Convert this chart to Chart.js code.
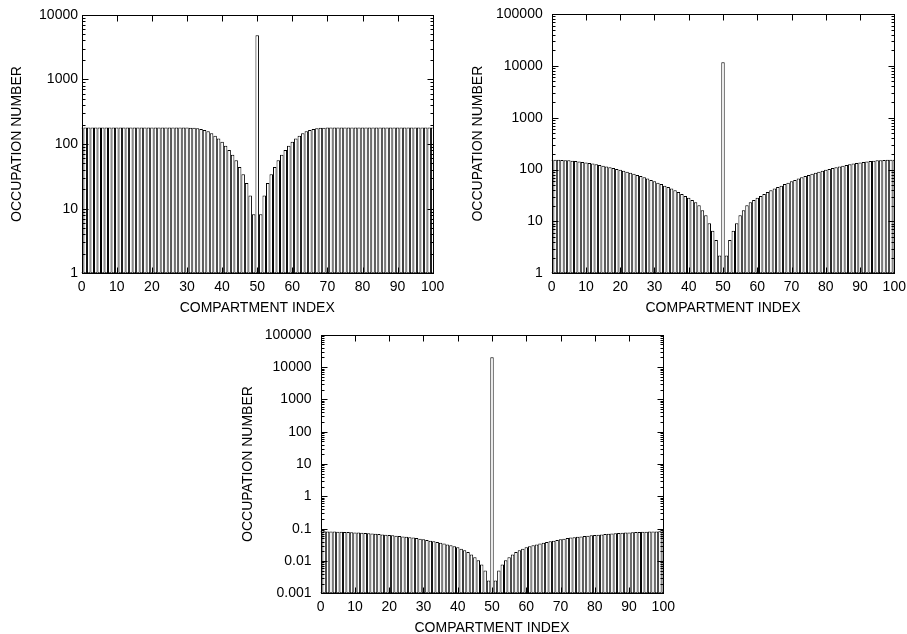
<!DOCTYPE html>
<html>
<head>
<meta charset="utf-8">
<script src="https://cdn.jsdelivr.net/npm/chart.js@4.4.0/dist/chart.umd.min.js"></script>
<style>
  html, body { margin: 0; padding: 0; background: #fff; }
  body { width: 907px; height: 634px; position: relative; overflow: hidden; }
  canvas { position: absolute; }
</style>
</head>
<body>
<canvas id="grafico1" width="450" height="320" style="left:0px;top:0px"></canvas>
<canvas id="grafico2" width="457" height="320" style="left:450px;top:0px"></canvas>
<canvas id="grafico3" width="460" height="320" style="left:220px;top:320px"></canvas>
<script>
// indices dos compartimentos 0..100
const compartimentos = Array.from({length: 101}, (_, i) => i);

// painel superior esquerdo
const ocupacao1 = [
  180, 180, 180, 180, 180, 180, 180, 180, 180, 180,
  180, 180, 180, 180, 180, 180, 180, 180, 180, 180,
  180, 180, 180, 180, 180, 180, 180, 180, 180, 180,
  180, 179, 178, 175, 171, 165, 157, 146, 134, 122,
  108, 94, 81, 68, 56, 44, 34, 25, 16, 8.2,
  4800,
  8.2, 16, 25, 34, 44, 56, 68, 81, 94, 108,
  122, 134, 146, 157, 165, 171, 175, 178, 179, 180,
  180, 180, 180, 180, 180, 180, 180, 180, 180, 180,
  180, 180, 180, 180, 180, 180, 180, 180, 180, 180,
  180, 180, 180, 180, 180, 180, 180, 180, 180, 180
];

// painel superior direito
const ocupacao2 = [
  155.5, 155, 154.5, 153.5, 152, 150.5, 148.5, 146, 143.5, 140.5,
  137.5, 134, 130.5, 127, 123, 119, 115, 111, 107, 103,
  99, 95, 91, 87, 83, 79, 75, 71, 67, 63,
  59.5, 56, 52.5, 49, 46, 43, 40, 37, 34, 31,
  28.5, 26, 23.5, 20.5, 16.5, 13.2, 9.2, 6.6, 4.4, 2.2,
  11800,
  2.2, 4.4, 6.6, 9.2, 13.2, 16.5, 20.5, 23.5, 26, 28.5,
  31, 34, 37, 40, 43, 46, 49, 52.5, 56, 59.5,
  63, 67, 71, 75, 79, 83, 87, 91, 95, 99,
  103, 107, 111, 115, 119, 123, 127, 130.5, 134, 137.5,
  140.5, 143.5, 146, 148.5, 150.5, 152, 153.5, 154.5, 155, 155.5
];

// painel inferior
const ocupacao3 = [
  0.0828, 0.0826, 0.0823, 0.0819, 0.0814, 0.0808, 0.0801, 0.0793, 0.0785, 0.0775,
  0.0765, 0.0754, 0.0742, 0.073, 0.0718, 0.0706, 0.0693, 0.068, 0.0665, 0.065,
  0.0635, 0.062, 0.0605, 0.059, 0.0575, 0.056, 0.0545, 0.053, 0.051, 0.049,
  0.047, 0.0448, 0.0426, 0.0405, 0.0385, 0.0365, 0.0345, 0.0325, 0.0305, 0.0285,
  0.0265, 0.024, 0.0215, 0.019, 0.016, 0.013, 0.0105, 0.0078, 0.0051, 0.0025,
  20000,
  0.0025, 0.0051, 0.0078, 0.0105, 0.013, 0.016, 0.019, 0.0215, 0.024, 0.0265,
  0.0285, 0.0305, 0.0325, 0.0345, 0.0365, 0.0385, 0.0405, 0.0426, 0.0448, 0.047,
  0.049, 0.051, 0.053, 0.0545, 0.056, 0.0575, 0.059, 0.0605, 0.062, 0.0635,
  0.065, 0.0665, 0.068, 0.0693, 0.0706, 0.0718, 0.073, 0.0742, 0.0754, 0.0765,
  0.0775, 0.0785, 0.0793, 0.0801, 0.0808, 0.0814, 0.0819, 0.0823, 0.0826, 0.0828
];

const ticksX = [0, 10, 20, 30, 40, 50, 60, 70, 80, 90, 100];
const ticksY1 = [1, 10, 100, 1000, 10000];
const rotulosY1 = ['1', '10', '100', '1000', '10000'];
const ticksY2 = [1, 10, 100, 1000, 10000, 100000];
const rotulosY2 = ['1', '10', '100', '1000', '10000', '100000'];
const ticksY3 = [0.001, 0.01, 0.1, 1, 10, 100, 1000, 10000, 100000];
const rotulosY3 = ['0.001', '0.01', '0.1', '1', '10', '100', '1000', '10000', '100000'];

Chart.defaults.font.family = '"Liberation Sans", Arial, sans-serif';
Chart.defaults.font.size = 14;
Chart.defaults.color = '#000';

// marcas para dentro + moldura, estilo gnuplot
const marcasInternas = {
  id: 'marcasInternas',
  afterDatasetsDraw(chart) {
    const {ctx, chartArea: a} = chart;
    const sx = chart.scales.x, sy = chart.scales.y;
    const r = v => Math.round(v) + 0.5;
    const esq = r(a.left), dir = r(a.right), cima = r(a.top), baixo = r(a.bottom);
    ctx.save();
    ctx.strokeStyle = '#000';
    ctx.lineWidth = 1;
    ctx.beginPath();
    sy.ticks.forEach((t, k) => {
      const py = r(sy.getPixelForValue(t.value));
      ctx.moveTo(esq, py); ctx.lineTo(esq + 6, py);
      ctx.moveTo(dir, py); ctx.lineTo(dir - 6, py);
      if (k < sy.ticks.length - 1) {
        for (let m = 2; m < 10; m++) {
          const pm = r(sy.getPixelForValue(t.value * m));
          ctx.moveTo(esq, pm); ctx.lineTo(esq + 3, pm);
          ctx.moveTo(dir, pm); ctx.lineTo(dir - 3, pm);
        }
      }
    });
    sx.ticks.forEach(t => {
      const px = r(sx.getPixelForValue(t.value));
      ctx.moveTo(px, baixo); ctx.lineTo(px, baixo - 6);
      ctx.moveTo(px, cima); ctx.lineTo(px, cima + 6);
    });
    ctx.stroke();
    ctx.strokeRect(esq, cima, dir - esq, baixo - cima);
    ctx.restore();
  }
};

function grafico(id, ocupacao, ticksY, rotulosY, g) {
  const ctx = document.getElementById(id);
  new Chart(ctx, {
    type: 'bar',
    data: {
      datasets: [{
        label: 'OCCUPATION NUMBER',
        data: compartimentos.map((c, i) => ({x: c, y: ocupacao[i]})),
        backgroundColor: '#ffffff',
        borderColor: '#000000',
        borderWidth: 1,
        borderSkipped: false,
        inflateAmount: 0,
        barPercentage: 1,
        categoryPercentage: 1,
        clip: 0
      }]
    },
    options: {
      responsive: false,
      animation: false,
      devicePixelRatio: 1,
      layout: { padding: { left: 0, top: g.topo, right: g.direita, bottom: 0 } },
      plugins: { legend: { display: false }, tooltip: { enabled: false } },
      scales: {
        x: {
          type: 'linear', min: 0, max: 100, offset: false,
          grid: { display: false, drawTicks: false, offset: false },
          border: { display: false },
          afterBuildTicks: s => { s.ticks = ticksX.map(v => ({value: v})); },
          afterFit: s => { s.height = 46.7; s.paddingLeft = 0; s.paddingRight = 0; },
          ticks: { padding: 5.8, maxRotation: 0, autoSkip: false, color: '#000', callback: v => String(v) },
          title: { display: true, text: 'COMPARTMENT INDEX', color: '#000', padding: { top: 0, bottom: 3.6 } }
        },
        y: {
          type: 'logarithmic', min: ticksY[0], max: ticksY[ticksY.length - 1],
          grid: { display: false, drawTicks: false },
          border: { display: false },
          afterBuildTicks: s => { s.ticks = ticksY.map(v => ({value: v})); },
          afterFit: s => { s.width = g.larguraY; s.paddingTop = 0; s.paddingBottom = 0; },
          ticks: { padding: g.padRotulo, autoSkip: false, color: '#000', callback: (v, i) => rotulosY[i] },
          title: { display: true, text: 'OCCUPATION NUMBER', color: '#000', padding: { top: g.padTitulo, bottom: 0 } }
        }
      }
    },
    plugins: [marcasInternas]
  });
}

grafico('grafico1', ocupacao1, ticksY1, rotulosY1, {topo: 14.7, direita: 17.3, larguraY: 81.7, padRotulo: 3.7, padTitulo: 8.6});
grafico('grafico2', ocupacao2, ticksY2, rotulosY2, {topo: 14, direita: 12.7, larguraY: 101.7, padRotulo: 9, padTitulo: 19.6});
grafico('grafico3', ocupacao3, ticksY3, rotulosY3, {topo: 14.7, direita: 16.7, larguraY: 100.7, padRotulo: 9.2, padTitulo: 19.6});
</script>
</body>
</html>
